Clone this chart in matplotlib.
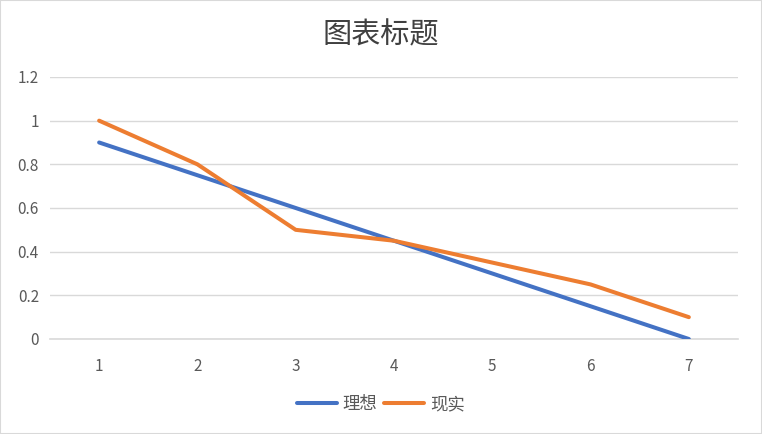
import matplotlib
matplotlib.use("Agg")
import matplotlib.pyplot as plt
from matplotlib.patches import Rectangle

plt.rcParams['font.family'] = ['Noto Sans CJK SC', 'DejaVu Sans']

x_vals = [1, 2, 3, 4, 5, 6, 7]
ideal = [0.9, 0.75, 0.6, 0.45, 0.3, 0.15, 0.0]
real = [1.0, 0.8, 0.5, 0.45, 0.35, 0.25, 0.1]
series_names = ['理想', '现实']
title = '图表标题'

fig = plt.figure(figsize=(7.62, 4.34), dpi=100)
ax = fig.add_axes([0.0656, 0.2189, 0.9029, 0.6037])

ax.plot(x_vals, ideal, color='#4472C4', lw=2.9, solid_capstyle='round', label=series_names[0], zorder=3)
ax.plot(x_vals, real, color='#ED7D31', lw=2.9, solid_capstyle='round', label=series_names[1], zorder=3)

ax.set_xlim(0.5, 7.5)
ax.set_ylim(0, 1.2)
ax.set_yticks([0, 0.2, 0.4, 0.6, 0.8, 1.0, 1.2])
ax.set_yticklabels(['0', '0.2', '0.4', '0.6', '0.8', '1', '1.2'])
ax.set_xticks(x_vals)
ax.grid(axis='y', color='#D9D9D9', lw=1)
ax.set_axisbelow(True)
for s in ['top', 'right', 'left']:
    ax.spines[s].set_visible(False)
ax.spines['bottom'].set_color('#D9D9D9')
ax.spines['bottom'].set_linewidth(1.2)
ax.tick_params(axis='both', length=0, colors='#595959', labelsize=11)
ax.tick_params(axis='x', pad=14)
ax.tick_params(axis='y', pad=8)

fig.text(0.5, 0.918, title, ha='center', va='center', fontsize=21, color='#404040')

fig.legend(loc='center', bbox_to_anchor=(0.5, 0.068), ncol=2, frameon=False,
           fontsize=12.5, labelcolor='#595959', handlelength=2.3, handletextpad=0.35,
           columnspacing=0.4)

fig.patches.append(Rectangle((0, 0), 1, 1, transform=fig.transFigure, fill=False,
                             edgecolor='#D9D9D9', lw=1.5))

fig.savefig('out.png', dpi=100)
